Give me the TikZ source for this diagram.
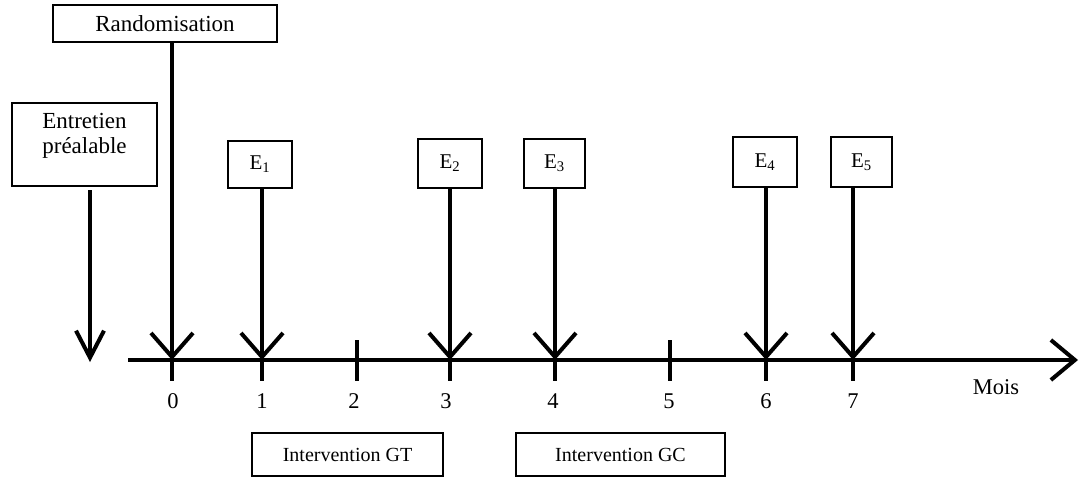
\documentclass[tikz,border=0pt]{standalone}
\usepackage{fontspec}
\setmainfont{Liberation Serif}
\usetikzlibrary{arrows.meta}
\begin{document}
\begin{tikzpicture}[x=1pt,y=-1pt,
  box/.style={draw, line width=1.5pt, inner sep=0pt, align=center},
  bigtxt/.style={font=\fontsize{23}{25}\selectfont},
  txt/.style={font=\fontsize{20}{22}\selectfont},
  etxt/.style={font=\fontsize{21}{22}\selectfont},
  numtxt/.style={font=\fontsize{22.5}{24}\selectfont},
  thick arrow/.style={line width=4pt, -{Straight Barb[length=24pt,width=42pt,line width=4pt]}},
  tick/.style={line width=4pt}]
\useasboundingbox (0,0) rectangle (1079,480);
% boxes
\node[box,bigtxt,minimum width=224pt,minimum height=37pt] (rand) at (165,23.5) {Randomisation};
\node[box,minimum width=145pt,minimum height=83pt] (ent) at (84.5,144.5) {};
\node[bigtxt, align=center, inner sep=0pt, anchor=base] (enttxt) at (84.5,153) {Entretien\\préalable};
\node[box,minimum width=64pt,minimum height=47pt] (e1) at (260,164.5) {};
\node[box,minimum width=64pt,minimum height=49pt] (e2) at (450,163.5) {};
\node[box,minimum width=61pt,minimum height=49pt] (e3) at (554.5,163.5) {};
\node[box,minimum width=64pt,minimum height=50pt] (e4) at (765,162) {};
\node[box,minimum width=61pt,minimum height=50pt] (e5) at (861.5,162) {};
\foreach \b/\k in {e1/1,e2/2,e3/3,e4/4,e5/5}{
  \node[etxt, anchor=base] (\b txt) at ([yshift=-5pt]\b.center) {E\textsubscript{\k}};
}
\node[box,txt,minimum width=191pt,minimum height=43pt] (gt) at (347.5,454.5) {Intervention GT};
\node[box,txt,minimum width=209pt,minimum height=43pt] (gc) at (620.5,454.5) {Intervention GC};
% axis
\coordinate (axs) at (128,360);
\coordinate (axe) at (1078,360);
\draw[line width=4pt, -{Straight Barb[length=24pt,width=40pt,line width=4pt]}] (axs) -- (axe);
\foreach \n/\x in {0/172,1/262,2/357,3/450,4/555,5/670,6/766,7/853}{
  \coordinate (t\n) at (\x,360);
  \draw[tick] (\x,340) -- (\x,381);
}
\foreach \n/\x in {0/173,1/262,2/354,3/446,4/553,5/669,6/766,7/853}{
  \node[numtxt] (l\n) at (\x,401) {\n};
}
\node[numtxt] (mois) at (996,387) {Mois};
% arrows
\coordinate (entend) at (90,362);
\draw[line width=4pt, -{Straight Barb[length=27pt,width=28pt,line width=4pt]}] (90,190) -- (entend);
\draw[thick arrow] (rand.south -| t0) -- (t0);
\draw[thick arrow] (e1.south -| t1) -- (t1);
\draw[thick arrow] (e2.south -| t3) -- (t3);
\draw[thick arrow] (e3.south -| t4) -- (t4);
\draw[thick arrow] (e4.south -| t6) -- (t6);
\draw[thick arrow] (e5.south -| t7) -- (t7);
\end{tikzpicture}
\end{document}
